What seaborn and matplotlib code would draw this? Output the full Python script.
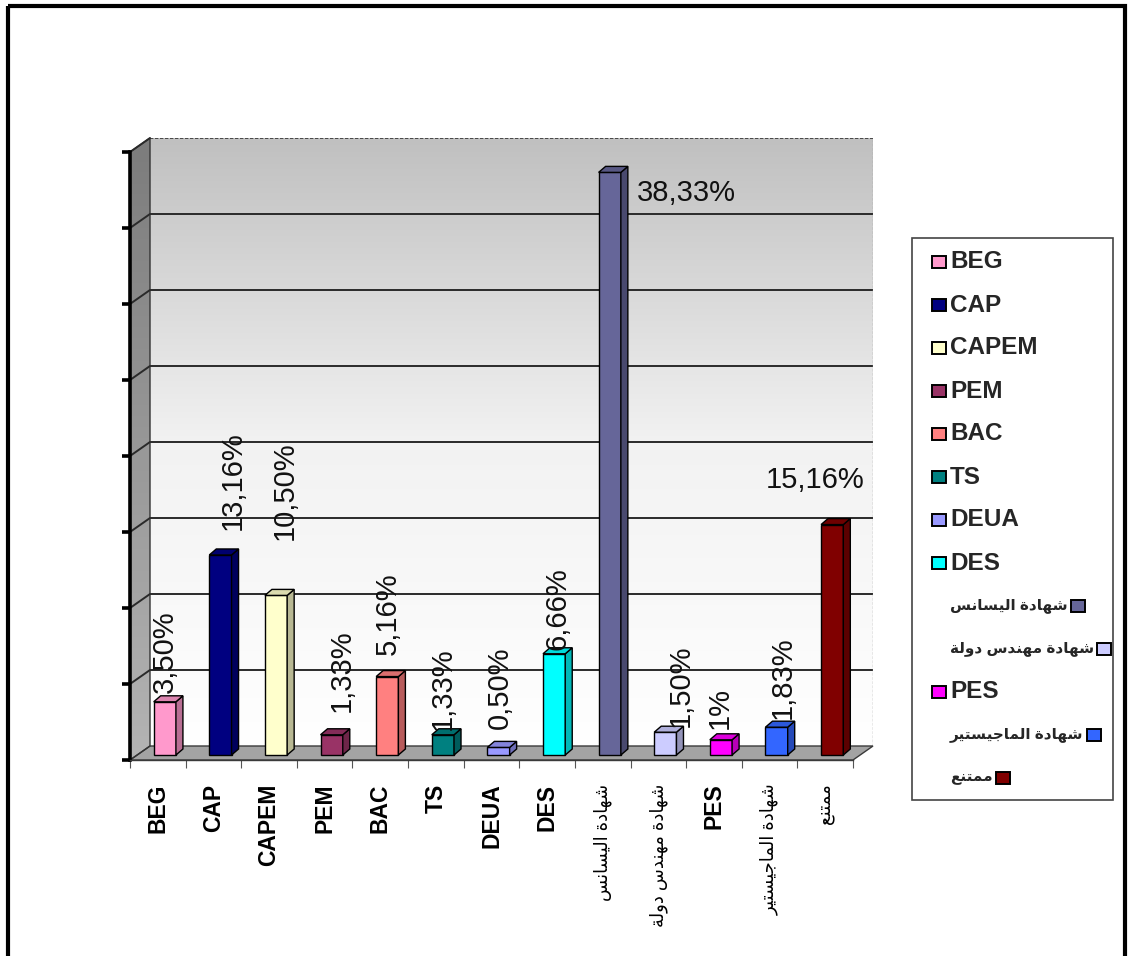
import numpy as np
import matplotlib
matplotlib.use("Agg")
import matplotlib.pyplot as plt
import matplotlib.transforms as mtransforms
from matplotlib.patches import Polygon, Rectangle
from matplotlib.lines import Line2D
from matplotlib.colors import LinearSegmentedColormap, to_rgb
import seaborn as sns

# ---------------------------------------------------------------- data
categories = ["BEG", "CAP", "CAPEM", "PEM", "BAC", "TS", "DEUA", "DES",
              "شهادة اليسانس", "شهادة مهندس دولة", "PES",
              "شهادة الماجيستير", "ممتنع"]
values = [3.50, 13.16, 10.50, 1.33, 5.16, 1.33, 0.50, 6.66,
          38.33, 1.50, 1.00, 1.83, 15.16]
value_labels = ["3,50%", "13,16%", "10,50%", "1,33%", "5,16%", "1,33%",
                "0,50%", "6,66%", "38,33%", "1,50%", "1%", "1,83%", "15,16%"]
colors = ["#FF99CC", "#000080", "#FFFFCC", "#993366", "#FF8080", "#008080",
          "#9999FF", "#00FFFF", "#666699", "#CCCCFF", "#FF00FF", "#3366FF",
          "#800000"]
y_ticks = [0, 5, 10, 15, 20, 25, 30, 35, 40]

# label offsets (pixels) from the top of each bar; some labels sit flat
label_offsets = [(7, 14), (19, 30), (16, 60), (17, 28), (8, 27), (7, 10),
                 (8, 23), (10, 9), (34, -16), (22, 10), (6, 16), (13, 13),
                 (-10, 50)]
flat_labels = {8: "left", 12: "center"}

# ---------------------------------------------------------------- arabic shaping
_FORMS = {
    "ا": (0xFE8D, 0xFE8E), "د": (0xFEA9, 0xFEAA), "ة": (0xFE93, 0xFE94),
    "و": (0xFEED, 0xFEEE), "ر": (0xFEAD, 0xFEAE),
    "ش": (0xFEB5, 0xFEB6, 0xFEB7, 0xFEB8), "ه": (0xFEE9, 0xFEEA, 0xFEEB, 0xFEEC),
    "ل": (0xFEDD, 0xFEDE, 0xFEDF, 0xFEE0), "ي": (0xFEF1, 0xFEF2, 0xFEF3, 0xFEF4),
    "س": (0xFEB1, 0xFEB2, 0xFEB3, 0xFEB4), "ن": (0xFEE5, 0xFEE6, 0xFEE7, 0xFEE8),
    "م": (0xFEE1, 0xFEE2, 0xFEE3, 0xFEE4), "ج": (0xFE9D, 0xFE9E, 0xFE9F, 0xFEA0),
    "ت": (0xFE95, 0xFE96, 0xFE97, 0xFE98), "ع": (0xFEC9, 0xFECA, 0xFECB, 0xFECC),
}


def is_arabic(s):
    return any("\u0600" <= c <= "\u06FF" for c in s)


def shape_arabic(s):
    """Contextual glyph forms + visual (right-to-left) order."""
    if not is_arabic(s):
        return s
    dual = lambda c: c in _FORMS and len(_FORMS[c]) == 4
    out, i, n = [], 0, len(s)
    while i < n:
        c = s[i]
        if c not in _FORMS:
            out.append(c)
            i += 1
            continue
        link_prev = i > 0 and dual(s[i - 1])
        if c == "ل" and i + 1 < n and s[i + 1] == "ا":
            out.append("\uFEFC" if link_prev else "\uFEFB")
            i += 2
            continue
        link_next = dual(c) and i + 1 < n and s[i + 1] in _FORMS
        f = _FORMS[c]
        if link_prev and link_next:
            g = f[3]
        elif link_prev:
            g = f[1]
        elif link_next:
            g = f[2]
        else:
            g = f[0]
        out.append(chr(g))
        i += 1
    return "".join(reversed(out))


def shade(color, k):
    r, g, b = to_rgb(color)
    return (r * k, g * k, b * k)


# ---------------------------------------------------------------- figure
sns.set_theme(style="white")
plt.rcParams["font.family"] = ["Liberation Sans", "DejaVu Sans"]

W, H = 1129, 956
fig = plt.figure(figsize=(W / 100, H / 100), dpi=100)
fig.patch.set_facecolor("white")
T_img = mtransforms.Affine2D().scale(1, -1).translate(0, H)   # image px -> display
T_disp = mtransforms.IdentityTransform()

AX_L, AX_R, AX_B, AX_T = 130, 853, 760, 152
DX, DY = 20, 14            # wall depth
BX, BY = 7, 5              # bar front offset
BDX, BDY = 7, 6            # bar depth

# back wall
ax_back = fig.add_axes([(AX_L + DX) / W, 1 - (AX_B - DY) / H,
                        (AX_R - AX_L) / W, (AX_B - AX_T) / H], zorder=0)
ax_back.set_xlim(0, 1)
ax_back.set_ylim(0, 40)
wall_cmap = LinearSegmentedColormap.from_list("wall", ["#ffffff", "#f2f2f2", "#c0c0c0"])
ax_back.imshow(np.linspace(0, 1, 256).reshape(-1, 1), cmap=wall_cmap,
               extent=[0, 1, 0, 40], origin="lower", aspect="auto")
for t in y_ticks[1:-1]:
    ax_back.axhline(t, color="#2a2a2a", lw=1.4)
ax_back.axhline(40, color="#333333", lw=1.2, ls=(0, (2, 1)))
ax_back.axvline(1, color="#9a9a9a", lw=1.0, ls=(0, (2, 1)))
ax_back.axis("off")

# main axes (front plane)
ax = fig.add_axes([AX_L / W, 1 - AX_B / H, (AX_R - AX_L) / W, (AX_B - AX_T) / H],
                  zorder=2)
ax.patch.set_alpha(0)

sns.barplot(x=categories, y=values, hue=categories,
            palette=dict(zip(categories, colors)), saturation=1,
            width=0.4, edgecolor="black", linewidth=1.0, legend=False, ax=ax)
ax.set_xlim(-0.5, len(categories) - 0.5)
ax.set_ylim(0, 40)

# side wall and floor
x0d, y0d = ax.transData.transform((-0.5, 0))
x1d, y1d = ax.transData.transform((len(categories) - 0.5, 40))
side = Polygon([(x0d, y0d), (x0d, y1d), (x0d + DX, y1d + DY), (x0d + DX, y0d + DY)],
               closed=True, transform=T_disp, facecolor="none",
               edgecolor="#333333", lw=1.0, zorder=1.2)
side_ax = fig.add_axes([x0d / W, y0d / H, DX / W, (y1d + DY - y0d) / H], zorder=1)
side_ax.imshow(np.linspace(0, 1, 256).reshape(-1, 1),
               cmap=LinearSegmentedColormap.from_list("side", ["#b4b4b4", "#7c7c7c"]),
               extent=[0, 1, 0, 1], origin="lower", aspect="auto")
side_ax.axis("off")
side_ax.images[0].set_clip_path(Polygon(side.get_xy(), transform=T_disp))
fig.add_artist(side)
for t in y_ticks[1:]:
    yy = ax.transData.transform((0, t))[1]
    fig.add_artist(Line2D([x0d, x0d + DX], [yy, yy + DY], transform=T_disp,
                          color="#2a2a2a", lw=1.4, zorder=1.3))
floor = Polygon([(x0d, y0d), (x1d, y0d), (x1d + DX, y0d + DY), (x0d + DX, y0d + DY)],
                closed=True, transform=T_disp, facecolor="#a3a3a3",
                edgecolor="#3a3a3a", lw=1.0, zorder=1.1)
fig.add_artist(floor)

# bars: push the front faces into the depth and add side / top faces
bar_shift = mtransforms.ScaledTranslation(BX / 100, BY / 100, fig.dpi_scale_trans)
for p, c in zip(ax.patches, colors):
    p.set_transform(ax.transData + bar_shift)
    p.set_clip_on(False)
    x, w, h = p.get_x(), p.get_width(), p.get_height()
    (ax0, ay0), (ax1, ay1) = ax.transData.transform([(x, 0), (x + w, h)])
    ax0 += BX; ax1 += BX; ay0 += BY; ay1 += BY
    ax.add_patch(Polygon([(ax1, ay0), (ax1 + BDX, ay0 + BDY), (ax1 + BDX, ay1 + BDY),
                          (ax1, ay1)], closed=True, transform=T_disp,
                         facecolor=shade(c, 0.72), edgecolor="black", lw=1.0,
                         clip_on=False, zorder=3))
    ax.add_patch(Polygon([(ax0, ay1), (ax1, ay1), (ax1 + BDX, ay1 + BDY),
                          (ax0 + BDX, ay1 + BDY)], closed=True, transform=T_disp,
                         facecolor=shade(c, 0.86), edgecolor="black", lw=1.0,
                         clip_on=False, zorder=3))

# axes lines and ticks
for s in ["top", "right"]:
    ax.spines[s].set_visible(False)
ax.spines["left"].set_color("black")
ax.spines["left"].set_linewidth(2.6)
ax.spines["bottom"].set_color("#3a3a3a")
ax.spines["bottom"].set_linewidth(1.0)
ax.set_yticks(y_ticks)
ax.tick_params(axis="y", which="major", left=True, length=6, width=2.6,
               color="black", labelleft=False)
ax.set_xticks(range(len(categories)))
ax.set_xticks(np.arange(-0.5, len(categories), 1.0), minor=True)
ax.tick_params(axis="x", which="minor", bottom=True, length=6, width=0.8, color="#555555")
ax.tick_params(axis="x", which="major", bottom=False, length=0, pad=17)
ax.set_xticklabels([shape_arabic(c) for c in categories], rotation=90)
for lab, c in zip(ax.get_xticklabels(), categories):
    if is_arabic(c):
        lab.set_fontsize(13)
        lab.set_fontweight("normal")
    else:
        lab.set_fontsize(16.5)
        lab.set_fontweight("bold")
    lab.set_color("black")
ax.set_xlabel("")
ax.set_ylabel("")

# value labels
for i, (v, txt, (dx, dy)) in enumerate(zip(values, value_labels, label_offsets)):
    if i in flat_labels:
        ax.annotate(txt, xy=(i, v), xytext=(dx, dy), textcoords="offset pixels",
                    ha=flat_labels[i], va="center", fontsize=21, color="#111111",
                    annotation_clip=False, zorder=5)
    else:
        ax.annotate(txt, xy=(i, v), xytext=(dx, dy), textcoords="offset pixels",
                    ha="center", va="bottom", rotation=90, fontsize=21,
                    color="#111111", annotation_clip=False, zorder=5)

# legend
fig.add_artist(Rectangle((912, 238), 201, 562, transform=T_img, facecolor="white",
                         edgecolor="#444444", lw=1.2, zorder=4))
renderer = fig.canvas.get_renderer()
for k, (c, col) in enumerate(zip(categories, colors)):
    yc = 262 + 43 * k
    if is_arabic(c):
        t = fig.text(950, yc, shape_arabic(c), transform=T_img, ha="left",
                     va="center", fontsize=11, fontweight="bold", zorder=5)
        bb = t.get_window_extent(renderer)
        mx = bb.x1 + 3
        fig.add_artist(Rectangle((mx, H - yc - 6), 14, 12, transform=T_disp,
                                 facecolor=col, edgecolor="black", lw=1.4, zorder=5))
    else:
        fig.add_artist(Rectangle((932, yc - 6), 14, 12, transform=T_img,
                                 facecolor=col, edgecolor="black", lw=1.4, zorder=5))
        fig.text(950, yc, c, transform=T_img, ha="left", va="center",
                 fontsize=17.5, fontweight="bold", zorder=5)

# outer frame
fig.add_artist(Rectangle((8, 6), 1117, 980, transform=T_img, facecolor="none",
                         edgecolor="black", lw=3, zorder=6, clip_on=False))

fig.savefig("out.png", dpi=100)
